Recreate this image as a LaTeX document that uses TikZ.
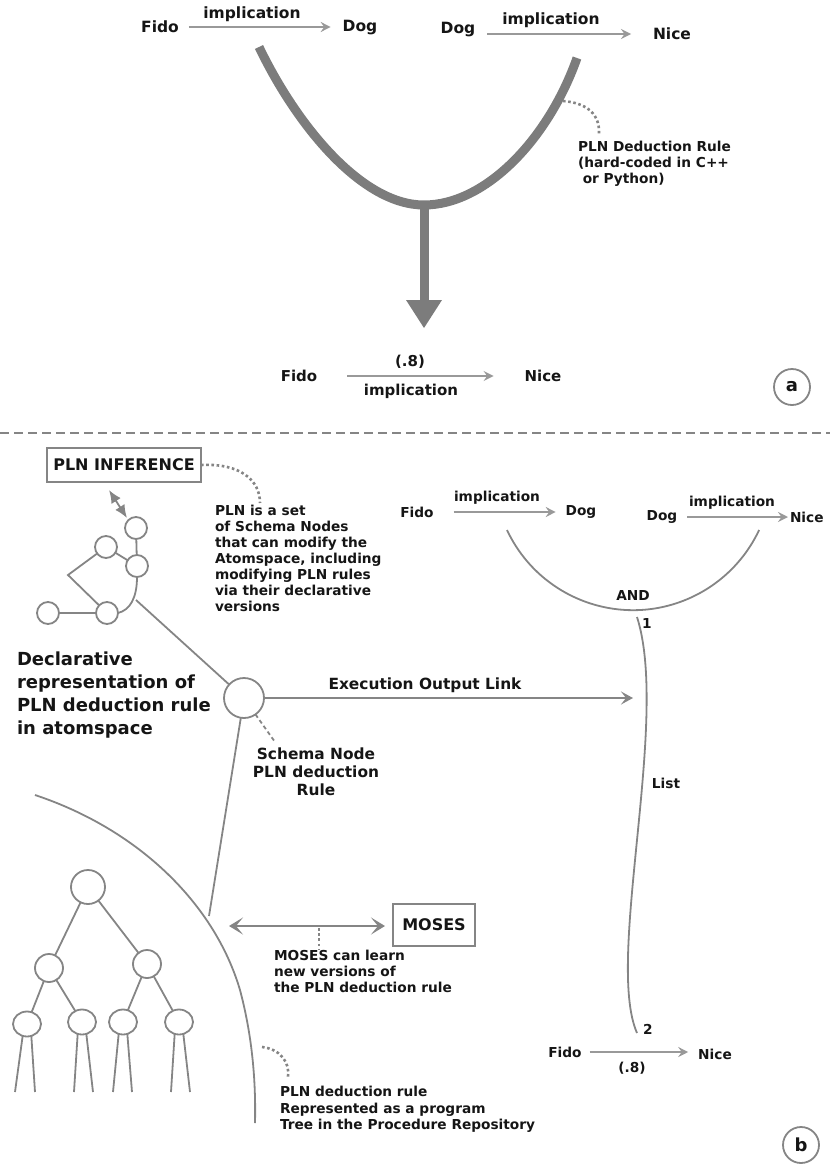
\documentclass[tikz,border=0pt]{standalone}
\usepackage{fontspec}
\setmainfont{DejaVu Sans}
\usetikzlibrary{arrows.meta,shapes.geometric}

\definecolor{linegray}{HTML}{858585}
\definecolor{arrowgray}{HTML}{999999}
\definecolor{heavygray}{HTML}{7C7C7C}
\definecolor{inkblack}{HTML}{151515}

\begin{document}
\begin{tikzpicture}[x=1pt,y=-1pt,
  every node/.style={inner sep=0pt, outer sep=0pt, text=inkblack},
  txt/.style={font=\bfseries\fontsize{13.7}{16}\selectfont},
  bigtxt/.style={font=\bfseries\fontsize{15.4}{18}\selectfont},
  midtxt/.style={font=\bfseries\fontsize{15}{17}\selectfont},
  toptxt/.style={font=\bfseries\fontsize{15.5}{18}\selectfont},
  note/.style={txt, align=left, anchor=north west},
  wire/.style={draw=linegray, line width=1.8pt},
  thinarrow/.style={draw=arrowgray, line width=1.7pt, -{Stealth[length=10pt,width=10pt,inset=3.5pt]}},
  dots/.style={draw=linegray, line width=2.6pt, dash pattern=on 2.6pt off 2.6pt},
  bubble/.style={circle, draw=linegray, line width=1.8pt, minimum size=22pt},
  leaf/.style={ellipse, draw=linegray, line width=1.8pt, minimum width=28pt, minimum height=25pt},
  tag/.style={circle, draw=linegray, line width=1.8pt, minimum size=36pt, font=\bfseries\fontsize{18}{18}\selectfont},
  boxed/.style={draw=linegray, line width=2pt, font=\bfseries\fontsize{16}{18}\selectfont},
  barb/.style={wire, {Stealth[length=14pt,width=17pt,inset=7pt]}-{Stealth[length=14pt,width=17pt,inset=7pt]}},
]
\useasboundingbox (0,0) rectangle (830,1167);

% ---------------- part (a): deduction rule in code ----------------
\node[toptxt] (fa) at (160,27) {Fido};
\node[toptxt] (da) at (360,28) {Dog};
\node[toptxt] (db) at (458,30) {Dog};
\node[toptxt] (na) at (672,34) {Nice};
\node[toptxt] (ia) at (252,14) {implication};
\node[toptxt] (ib) at (551,20) {implication};
\draw[thinarrow, shorten <=10pt, shorten >=12pt] (fa.east) -- (fa.east -| da.west);
\draw[thinarrow, shorten <=12pt, shorten >=22pt] (db.east |- na.west) -- (na.west);

% the two premises merge into one conclusion
\draw[heavygray, line width=9pt] (259,47) .. controls (297,126) and (362,205) .. (424,205)
      .. controls (485,205) and (548,140) .. (577,58);
\draw[heavygray, line width=9pt] (424,203) -- (424,306);
\fill[heavygray] (406,300) -- (442,300) -- (424,328) -- cycle;

\coordinate (dedA) at (563,101);
\coordinate (dedB) at (599,134);
\draw[dots] (dedA) .. controls (588,103) and (600,115) .. (dedB);
\node[note] (ded) at (578,141) {PLN Deduction Rule\\(hard-coded in C++\\\ or Python)};

\node[midtxt] (fc) at (299,376) {Fido};
\node[midtxt] (nc) at (543,376) {Nice};
\node[midtxt] (pc) at (410,362) {(.8)};
\node[midtxt] (ic) at (411,391) {implication};
\draw[thinarrow, shorten <=30pt, shorten >=31pt] (fc.east) -- (nc.west);
\node[tag] (taga) at (792,387) {a};

% separator
\draw[linegray, line width=2pt, dash pattern=on 9pt off 5pt] (0,433) -- (830,433);

% ---------------- part (b): declarative representation ----------------
\node[boxed, minimum width=154pt, minimum height=34pt] (inf) at (124,465) {PLN INFERENCE};
\coordinate (infB) at (260,503);
\draw[dots] (inf.east) .. controls (240,463) and (260,480) .. (infB);

\node[bubble] (t1) at (136,528) {};
\node[bubble] (t2) at (106,547) {};
\node[bubble] (t3) at (137,566) {};
\node[bubble] (t4) at (107,613) {};
\node[bubble] (t5) at (48,613) {};
\coordinate (tj) at (68,575);
\coordinate (tk) at (136,600);
\draw[wire] (t1) -- (t3);
\draw[wire] (t2) -- (t3);
\draw[wire] (t2) -- (tj) -- (t4);
\draw[wire] (t5) -- (t4);
\draw[wire] (t3.south) .. controls (137,598) and (130,610) .. (t4.east);

\coordinate (dA) at (109,490);
\coordinate (dB) at (127,518);
\draw[linegray, line width=1.8pt, {Latex[length=13pt,width=11pt]}-{Latex[length=13pt,width=11pt]}] (dA) -- (dB);

\node[note] (plnset) at (215,505) {PLN is a set\\of Schema Nodes\\that can modify the\\Atomspace, including\\modifying PLN rules\\via their declarative\\versions};

\node[anchor=north west, align=left, font=\bfseries\fontsize{18}{23}\selectfont] (decl) at (17,652)
  {Declarative\\representation of\\PLN deduction rule\\in atomspace};

\node[circle, draw=linegray, line width=1.8pt, minimum size=40pt] (sn) at (244,698) {};
\draw[wire] (tk) -- (sn);
\coordinate (eo) at (633,698);
\draw[wire, -{Stealth[length=12pt,width=13pt,inset=5pt]}] (sn.east |- eo) -- (eo);
\node[bigtxt] (eol) at (425,685) {Execution Output Link};
\coordinate (sd) at (275,742);
\draw[linegray, line width=1.8pt, dash pattern=on 4pt off 3pt] (sn.-55) -- (sd);
\node[bigtxt, align=center, anchor=north] (snl) at (316,748) {Schema Node\\PLN deduction\\Rule};

% procedure repository boundary
\coordinate (aj) at (209,916);
\draw[wire] (sn) -- (aj);
\draw[wire] (35,795) .. controls (140,830) and (215,905) .. (240,990)
      .. controls (252,1035) and (256,1080) .. (255,1123);

% program tree
\node[circle, draw=linegray, line width=1.8pt, minimum size=34pt] (r0) at (88,887) {};
\node[circle, draw=linegray, line width=1.8pt, minimum size=28pt] (r1) at (49,968) {};
\node[circle, draw=linegray, line width=1.8pt, minimum size=28pt] (r2) at (147,964) {};
\node[leaf] (l1) at (27,1024) {};
\node[leaf] (l2) at (82,1022) {};
\node[leaf] (l3) at (123,1022) {};
\node[leaf] (l4) at (179,1022) {};
\draw[wire] (r0) -- (r1);
\draw[wire] (r0) -- (r2);
\draw[wire] (r1) -- (l1);
\draw[wire] (r1) -- (l2);
\draw[wire] (r2) -- (l3);
\draw[wire] (r2) -- (l4);
\coordinate (g1) at (15,1092);  \coordinate (g2) at (35,1092);
\coordinate (g3) at (74,1092);  \coordinate (g4) at (93,1092);
\coordinate (g5) at (113,1092); \coordinate (g6) at (132,1092);
\coordinate (g7) at (171,1092); \coordinate (g8) at (190,1092);
\draw[wire] (l1.250) -- (g1); \draw[wire] (l1.290) -- (g2);
\draw[wire] (l2.250) -- (g3); \draw[wire] (l2.290) -- (g4);
\draw[wire] (l3.250) -- (g5); \draw[wire] (l3.290) -- (g6);
\draw[wire] (l4.250) -- (g7); \draw[wire] (l4.290) -- (g8);

% MOSES
\node[boxed, minimum width=82pt, minimum height=42pt] (mo) at (434,925) {MOSES};
\coordinate (ml) at (229,926);
\draw[barb, shorten >=8pt] (ml) -- (mo.west |- ml);
\coordinate (mt) at (319,928);
\coordinate (mb) at (319,950);
\draw[dots] (mt) -- (mb);
\node[note] (mol) at (274,950) {MOSES can learn\\new versions of\\the PLN deduction rule};

\coordinate (prA) at (262,1047);
\coordinate (prB) at (288,1077);
\draw[dots] (prA) .. controls (280,1049) and (290,1062) .. (prB);
\node[note, font=\bfseries\fontsize{13.7}{16.7}\selectfont] (prl) at (280,1086)
  {PLN deduction rule\\Represented as a program\\Tree in the Procedure Repository};

% AND / List structure
\node[txt] (fb) at (417,512) {Fido};
\node[txt] (dgb) at (581,512) {Dog};
\node[txt] (dgc) at (662,517) {Dog};
\node[txt, anchor=west] (nb) at (790,517) {Nice};
\node[txt] (ib1) at (497,498) {implication};
\node[txt] (ib2) at (732,503) {implication};
\draw[thinarrow, shorten <=20pt, shorten >=10pt] (fb.east) -- (fb.east -| dgb.west);
\draw[thinarrow, shorten <=10pt, shorten >=2pt] (dgc.east) -- (dgc.east -| nb.west);

\coordinate (andL) at (507,530);
\draw[wire] (andL) arc[start angle=154.9, end angle=25.1, radius=139.2];
\node[txt] (and) at (633,595) {AND};

\coordinate (lsA) at (637,617);
\coordinate (lsB) at (637,1033);
\draw[wire] (lsA) .. controls (670,720) and (605,960) .. (lsB);
\node[txt] (one) at (647,623) {1};
\node[txt] (two) at (648,1029) {2};
\node[txt] (lst) at (666,783) {List};

\node[txt] (fd) at (565,1052) {Fido};
\node[txt] (nd) at (715,1054) {Nice};
\node[txt] (pd) at (632,1068) {(.8)};
\draw[thinarrow, shorten <=8pt, shorten >=10pt] (fd.east) -- (fd.east -| nd.west);
\node[tag] (tagb) at (801,1145) {b};

\end{tikzpicture}
\end{document}
